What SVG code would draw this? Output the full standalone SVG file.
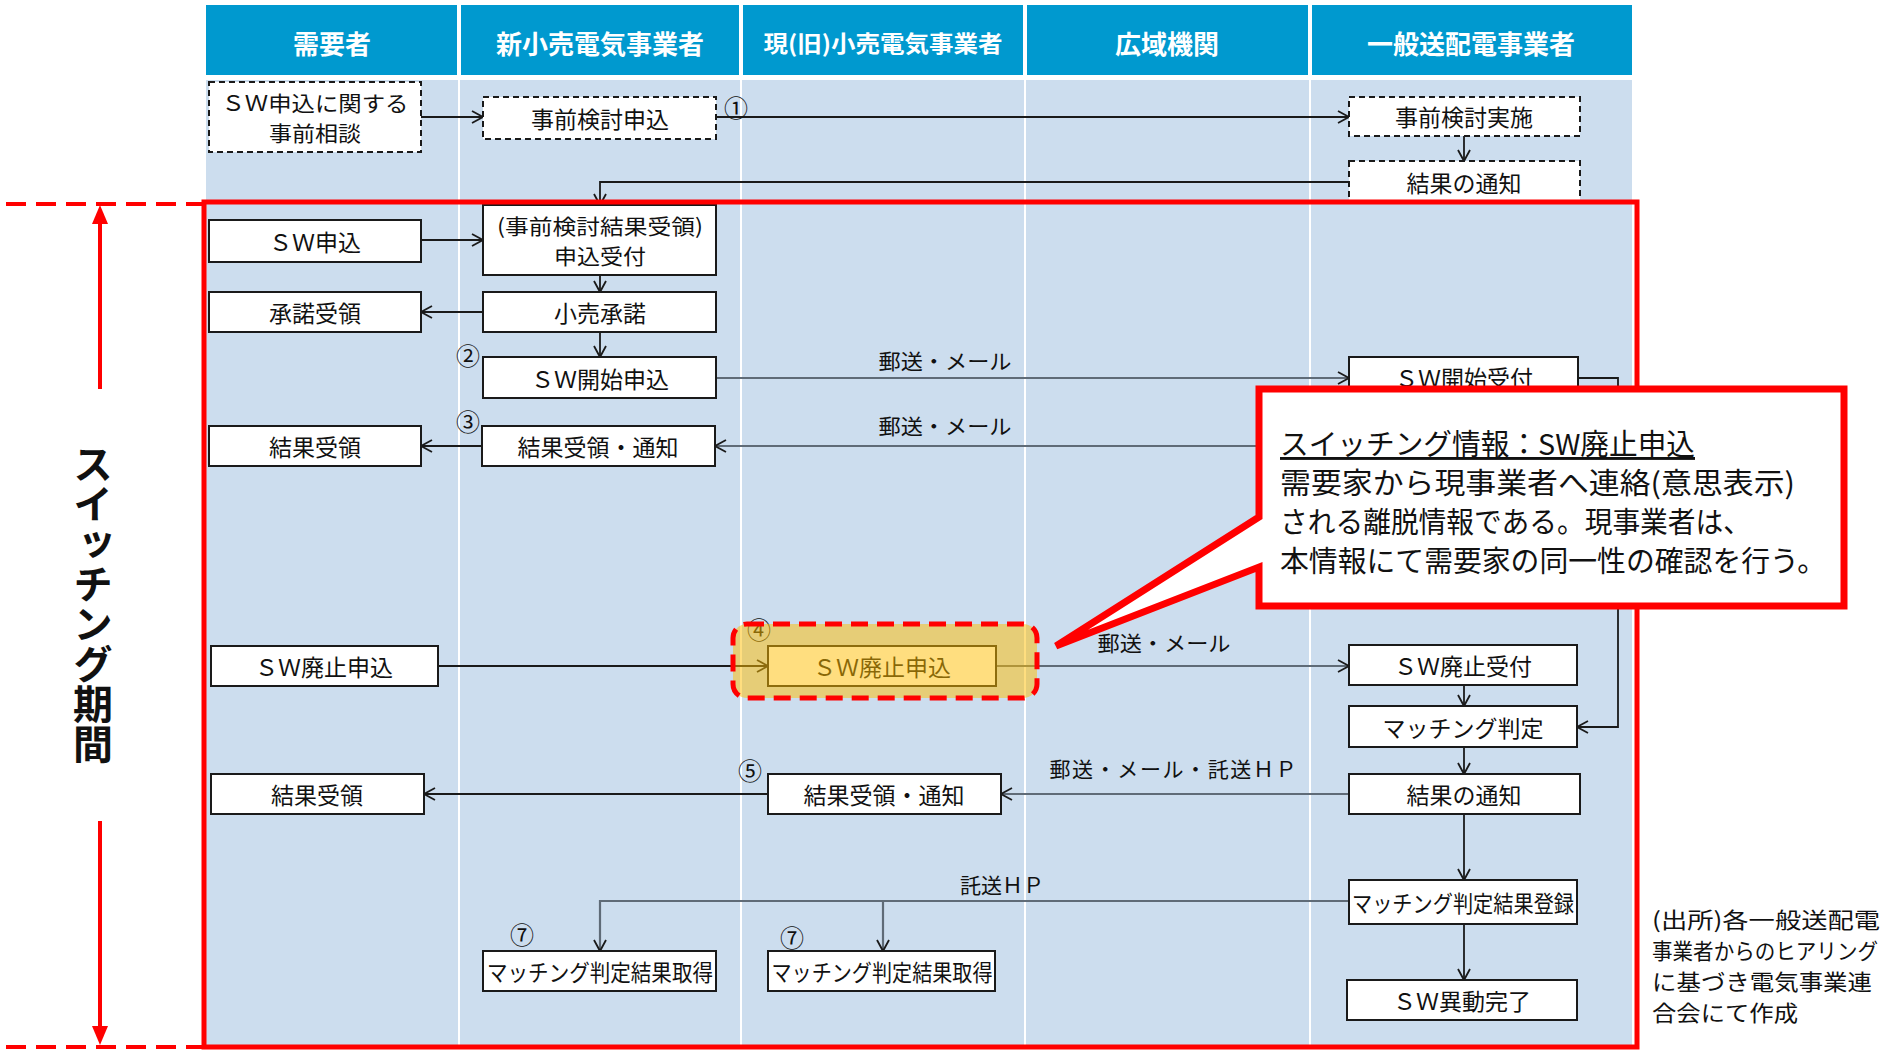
<svg xmlns="http://www.w3.org/2000/svg" width="1893" height="1052" viewBox="0 0 1893 1052">
<style>
text{font-family:"Noto Sans CJK JP","Noto Sans",sans-serif;fill:#111}
.hd{fill:#0099CF}
.ht{fill:#fff;font-weight:700;font-size:26px;text-anchor:middle;dominant-baseline:central}
.box{fill:#fff;stroke:#1a1a1a;stroke-width:2}
.dbox{fill:#fff;stroke:#1a1a1a;stroke-width:2;stroke-dasharray:6 4}
.nt{font-size:23px;text-anchor:middle;dominant-baseline:central}
.nt2{font-size:21px;text-anchor:middle;dominant-baseline:central}
.lb{font-size:21px;text-anchor:middle;dominant-baseline:central}
.num{font-size:24px;text-anchor:middle;dominant-baseline:central}
.cn{fill:none;stroke:#1a1a1a;stroke-width:1.8;marker-end:url(#ah)}
.cg{fill:none;stroke:#5f6b77;stroke-width:2.2;marker-end:url(#ah)}
.ct{font-size:29px;dominant-baseline:central}
.src{font-size:22px;dominant-baseline:central}
</style>
<defs>
<marker id="ah" markerUnits="userSpaceOnUse" markerWidth="14" markerHeight="14" refX="12" refY="7" orient="auto">
<path d="M1,1 L12,7 L1,13" fill="none" stroke="#1a1a1a" stroke-width="1.8"/>
</marker>
</defs>
<!-- header -->
<g id="header">
<rect class="hd" x="206" y="5" width="251" height="70"/>
<rect class="hd" x="461" y="5" width="278" height="70"/>
<rect class="hd" x="743" y="5" width="280" height="70"/>
<rect class="hd" x="1027" y="5" width="281" height="70"/>
<rect class="hd" x="1312" y="5" width="320" height="70"/>
<text class="ht" x="332" y="42">需要者</text>
<text class="ht" x="600" y="42">新小売電気事業者</text>
<text class="ht" x="883" y="42" style="font-size:23px" textLength="239" lengthAdjust="spacingAndGlyphs">現(旧)小売電気事業者</text>
<text class="ht" x="1167" y="42">広域機関</text>
<text class="ht" x="1471" y="42">一般送配電事業者</text>
</g>
<g id="body">
<rect x="206" y="80" width="1426" height="968" fill="#CCDDEE"/>
<g stroke="#fff" stroke-width="2">
<line x1="459" y1="80" x2="459" y2="1048"/>
<line x1="741" y1="80" x2="741" y2="1048"/>
<line x1="1025" y1="80" x2="1025" y2="1048"/>
<line x1="1310" y1="80" x2="1310" y2="1048"/>
</g>
</g>
<!-- connectors -->
<g id="connectors">
<path class="cn" d="M421,117 H483"/>
<path class="cn" d="M716,117 H1349"/>
<path class="cn" d="M1464,136 V161"/>
<path class="cn" d="M1349,182 H600 V205"/>
<path class="cn" d="M421,240 H483"/>
<path class="cn" d="M600,275 V292"/>
<path class="cn" d="M483,312 H421"/>
<path class="cn" d="M600,332 V357"/>
<path class="cg" d="M716,378 H1349"/>
<path class="cn" d="M1578,378 H1618 V727 H1577"/>
<path class="cg" d="M1349,446 H715"/>
<path class="cn" d="M482,446 H421"/>
<path class="cn" d="M438,666 H768"/>
<path class="cg" d="M996,666 H1349"/>
<path class="cn" d="M1464,685 V706"/>
<path class="cn" d="M1464,747 V774"/>
<path class="cg" d="M1349,794 H1001"/>
<path class="cn" d="M768,794 H424"/>
<path class="cn" d="M1464,814 V880"/>
<path class="cg" d="M1349,901 H600 V951"/>
<path class="cg" d="M883,901 V951"/>
<path class="cn" d="M1464,924 V980"/>
<text class="num" x="736" y="106">①</text>
<text class="num" x="468" y="354">②</text>
<text class="num" x="468" y="420">③</text>
<text class="num" x="750" y="769">⑤</text>
<text class="num" x="522" y="933">⑦</text>
<text class="num" x="792" y="936">⑦</text>
<text class="lb" x="945" y="360" textLength="133" lengthAdjust="spacingAndGlyphs">郵送・メール</text>
<text class="lb" x="945" y="425" textLength="133" lengthAdjust="spacingAndGlyphs">郵送・メール</text>
<text class="lb" x="1164" y="642" textLength="133" lengthAdjust="spacingAndGlyphs">郵送・メール</text>
<text class="lb" x="1173" y="768" textLength="247">郵送・メール・託送ＨＰ</text>
<text class="lb" x="1002" y="884">託送ＨＰ</text>
</g>
<!-- nodes -->
<g id="n1"><rect class="dbox" x="209" y="82" width="212" height="70"/><text class="nt2" x="315" y="102" textLength="187" lengthAdjust="spacingAndGlyphs">ＳＷ申込に関する</text><text class="nt2" x="315" y="132" textLength="92" lengthAdjust="spacingAndGlyphs">事前相談</text></g>
<g id="n2"><rect class="dbox" x="483" y="97" width="233" height="42"/><text class="nt" x="600" y="118">事前検討申込</text></g>
<g id="n3"><rect class="dbox" x="1349" y="97" width="231" height="39"/><text class="nt" x="1464" y="116">事前検討実施</text></g>
<g id="n4"><rect class="dbox" x="1349" y="161" width="231" height="42"/><text class="nt" x="1464" y="182">結果の通知</text></g>
<g id="n5"><rect class="box" x="209" y="220" width="212" height="42"/><text class="nt" x="315" y="241">ＳＷ申込</text></g>
<g id="n6"><rect class="box" x="483" y="205" width="233" height="70"/><text class="nt2" x="600" y="225" textLength="206" lengthAdjust="spacingAndGlyphs">(事前検討結果受領)</text><text class="nt2" x="600" y="255" textLength="92" lengthAdjust="spacingAndGlyphs">申込受付</text></g>
<g id="n7"><rect class="box" x="209" y="292" width="212" height="40"/><text class="nt" x="315" y="312">承諾受領</text></g>
<g id="n8"><rect class="box" x="483" y="292" width="233" height="40"/><text class="nt" x="600" y="312">小売承諾</text></g>
<g id="n9"><rect class="box" x="483" y="357" width="233" height="41"/><text class="nt" x="600" y="378">ＳＷ開始申込</text></g>
<g id="n10"><rect class="box" x="1349" y="357" width="229" height="39"/><text class="nt" x="1464" y="377">ＳＷ開始受付</text></g>
<g id="n11"><rect class="box" x="209" y="426" width="212" height="40"/><text class="nt" x="315" y="446">結果受領</text></g>
<g id="n12"><rect class="box" x="482" y="426" width="233" height="40"/><text class="nt" x="598" y="446">結果受領・通知</text></g>
<g id="n13"><rect class="box" x="211" y="646" width="227" height="40"/><text class="nt" x="324" y="666">ＳＷ廃止申込</text></g>
<g id="n14"><rect class="box" x="768" y="646" width="228" height="40"/><text class="nt" x="882" y="666">ＳＷ廃止申込</text><text class="num" x="759" y="628">④</text></g>
<g id="n15"><rect class="box" x="1349" y="645" width="228" height="40"/><text class="nt" x="1463" y="665">ＳＷ廃止受付</text></g>
<g id="n16"><rect class="box" x="1349" y="706" width="228" height="41"/><text class="nt" x="1463" y="727">マッチング判定</text></g>
<g id="n17"><rect class="box" x="211" y="774" width="213" height="40"/><text class="nt" x="317" y="794">結果受領</text></g>
<g id="n18"><rect class="box" x="768" y="774" width="233" height="40"/><text class="nt" x="884" y="794">結果受領・通知</text></g>
<g id="n19"><rect class="box" x="1349" y="774" width="231" height="40"/><text class="nt" x="1464" y="794">結果の通知</text></g>
<g id="n20"><rect class="box" x="1349" y="880" width="228" height="44"/><text class="nt" x="1463" y="902" textLength="222" lengthAdjust="spacingAndGlyphs">マッチング判定結果登録</text></g>
<g id="n21"><rect class="box" x="483" y="951" width="233" height="40"/><text class="nt" x="600" y="971" textLength="226" lengthAdjust="spacingAndGlyphs">マッチング判定結果取得</text></g>
<g id="n22"><rect class="box" x="768" y="951" width="227" height="40"/><text class="nt" x="882" y="971" textLength="221" lengthAdjust="spacingAndGlyphs">マッチング判定結果取得</text></g>
<g id="n23"><rect class="box" x="1347" y="980" width="230" height="40"/><text class="nt" x="1462" y="1000">ＳＷ異動完了</text></g>
<!-- highlight -->
<g id="highlight">
<rect x="733" y="624" width="304" height="74" rx="14" fill="rgb(255,189,0)" fill-opacity="0.5"/>
<rect x="733" y="624" width="304" height="74" rx="14" fill="none" stroke="#FF0000" stroke-width="5" stroke-dasharray="17 9"/>
</g>
<!-- switching period frame -->
<g id="period">
<rect x="204" y="202" width="1433" height="845" fill="none" stroke="#FF0000" stroke-width="5"/>
<path d="M6,204 H204 M6,1047 H204" stroke="#FF0000" stroke-width="4" stroke-dasharray="20 10" fill="none"/>
<line x1="100" y1="389" x2="100" y2="218" stroke="#FF0000" stroke-width="4"/>
<path d="M100,205 L92,224 L108,224 Z" fill="#FF0000"/>
<line x1="100" y1="821" x2="100" y2="1030" stroke="#FF0000" stroke-width="4"/>
<path d="M100,1045 L92,1026 L108,1026 Z" fill="#FF0000"/>
<text x="93" y="604" style="writing-mode:vertical-rl;font-size:40px;font-weight:700;text-anchor:middle">スイッチング期間</text>
</g>
<!-- callout -->
<g id="callout">
<path d="M1259,389 H1844 V606 H1259 V567 L1056,646 L1259,517 Z" fill="#fff" stroke="#FF0000" stroke-width="7" stroke-linejoin="miter"/>
<text class="ct" x="1280" y="442" text-decoration="underline" textLength="415" lengthAdjust="spacingAndGlyphs">スイッチング情報：SW廃止申込</text>
<text class="ct" x="1280" y="481" textLength="515" lengthAdjust="spacingAndGlyphs">需要家から現事業者へ連絡(意思表示)</text>
<text class="ct" x="1280" y="520" textLength="471" lengthAdjust="spacingAndGlyphs">される離脱情報である。現事業者は、</text>
<text class="ct" x="1280" y="559" textLength="546" lengthAdjust="spacingAndGlyphs">本情報にて需要家の同一性の確認を行う。</text>
</g>
<g id="source">
<text class="src" x="1652" y="918" textLength="228" lengthAdjust="spacingAndGlyphs">(出所)各一般送配電</text>
<text class="src" x="1652" y="949" textLength="226" lengthAdjust="spacingAndGlyphs">事業者からのヒアリング</text>
<text class="src" x="1652" y="980" textLength="220" lengthAdjust="spacingAndGlyphs">に基づき電気事業連</text>
<text class="src" x="1652" y="1011" textLength="146" lengthAdjust="spacingAndGlyphs">合会にて作成</text>
</g>
</svg>
